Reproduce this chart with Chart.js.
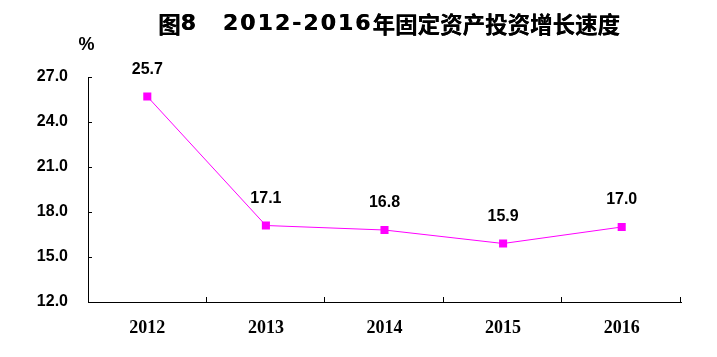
<!DOCTYPE html>
<html>
<head>
<meta charset="utf-8">
<script src="https://cdn.jsdelivr.net/npm/chart.js@4"></script>
<style>
html,body{margin:0;padding:0;background:#fff;}
canvas{display:block;}
</style>
</head>
<body>
<canvas id="c" width="717" height="357"></canvas>
<script>
const categories = ['2012', '2013', '2014', '2015', '2016'];
const growthRates = [25.7, 17.1, 16.8, 15.9, 17.0];
const yTicks = [12.0, 15.0, 18.0, 21.0, 24.0, 27.0];
const titleText = '图8　2012-2016年固定资产投资增长速度';
const unitText = '%';

const SANS = '"Liberation Sans", Arial, sans-serif';
const SERIF = '"Liberation Serif", "Times New Roman", serif';
const CJK = '"Noto Sans CJK SC", sans-serif';

const decor = {
  id: 'decor',
  afterDraw(chart) {
    const ctx = chart.ctx;
    const area = chart.chartArea;
    const xs = chart.scales.x, ys = chart.scales.y;
    ctx.save();
    ctx.strokeStyle = '#000';
    ctx.lineWidth = 1;
    // y tick marks (inside)
    yTicks.forEach(v => {
      const y = Math.round(ys.getPixelForValue(v)) + 0.5;
      ctx.beginPath();
      ctx.moveTo(area.left, y);
      ctx.lineTo(area.left + 4, y);
      ctx.stroke();
    });
    // x tick marks at category boundaries (inside)
    const n = categories.length;
    for (let i = 1; i <= n; i++) {
      let x;
      if (i < n) x = (xs.getPixelForTick(i - 1) + xs.getPixelForTick(i)) / 2;
      else x = area.right;
      x = Math.round(x) - 0.5;
      ctx.beginPath();
      ctx.moveTo(x, area.bottom);
      ctx.lineTo(x, area.bottom - 5);
      ctx.stroke();
    }
    // data labels
    ctx.fillStyle = '#000';
    ctx.font = 'bold 16px ' + SANS;
    ctx.textAlign = 'center';
    ctx.textBaseline = 'middle';
    const meta = chart.getDatasetMeta(0);
    meta.data.forEach((pt, i) => {
      ctx.fillText(growthRates[i].toFixed(1), pt.x, pt.y - 27);
    });
    // unit
    ctx.font = 'bold 18px ' + SANS;
    ctx.fillText(unitText, 86.5, 45);
    // title
    const parts = [
      ['图', 'bold 22.5px ' + CJK, 0],
      ['8', 'bold 22px "DejaVu Sans", sans-serif', 1],
      ['　', 'bold 26px ' + CJK, 0],
      ['2012-2016', 'bold 22px "DejaVu Sans", sans-serif', 2],
      ['年固定资产投资增长速度', 'bold 22.5px ' + CJK, 0]
    ];
    ctx.textAlign = 'left';
    ctx.textBaseline = 'middle';
    let x = 158;
    parts.forEach(([t, f, ls]) => {
      ctx.font = f;
      ctx.letterSpacing = ls + 'px';
      ctx.fillText(t, x, 24);
      ctx.fillText(t, x + 0.4, 24);
      x += ctx.measureText(t).width;
    });
    ctx.letterSpacing = '0px';
    ctx.restore();
  }
};

new Chart(document.getElementById('c'), {
  type: 'line',
  data: {
    labels: categories,
    datasets: [{
      data: growthRates,
      borderColor: '#FF00FF',
      backgroundColor: '#FF00FF',
      borderWidth: 1,
      tension: 0,
      pointStyle: 'rect',
      pointRadius: 5.7,
      pointBorderWidth: 0,
      pointBackgroundColor: '#FF00FF'
    }]
  },
  options: {
    responsive: false,
    animation: false,
    events: [],
    layout: { padding: { left: 0, right: 36, top: 77, bottom: 0 } },
    plugins: { legend: { display: false }, tooltip: { enabled: false }, title: { display: false } },
    scales: {
      x: {
        offset: true,
        grid: { display: false, drawTicks: false },
        border: { display: true, color: '#000', width: 1 },
        ticks: { color: '#000', font: { family: SERIF, size: 18, weight: 'bold' }, padding: 16, maxRotation: 0 },
        afterFit(s) { s.height = 55; }
      },
      y: {
        min: 12, max: 27,
        afterBuildTicks(s) { s.ticks = yTicks.map(v => ({ value: v })); },
        grid: { display: false, drawTicks: false },
        border: { display: true, color: '#000', width: 1 },
        ticks: { color: '#000', font: { family: SANS, size: 16, weight: 'bold' }, padding: 20,
                 callback: v => Number(v).toFixed(1) },
        afterFit(s) { s.width = 88; }
      }
    }
  },
  plugins: [decor]
});
</script>
</body>
</html>
